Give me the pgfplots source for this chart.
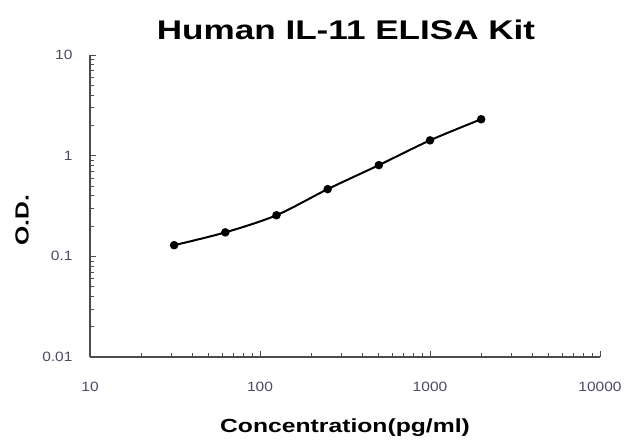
\documentclass[border=0pt]{standalone}
\usepackage{fontspec}
\setmainfont{Liberation Sans}
\newfontfamily\wide{Liberation Sans}[FakeStretch=1.3]
\newfontfamily\tickf{Liberation Sans}[FakeStretch=1.15]
\usepackage{pgfplots}
\pgfplotsset{compat=1.18}
\definecolor{ticklab}{RGB}{80,75,100}
\begin{document}
\begin{tikzpicture}
\useasboundingbox (-90pt,-83pt) rectangle (536pt,357pt);
\begin{axis}[
    at={(0,0)}, anchor=south west,
    scale only axis, width=510pt, height=302pt,
    xmode=log, ymode=log,
    xmin=10, xmax=10000, ymin=0.01, ymax=10,
    axis lines*=left,
    axis line style={line width=1.3pt, black!70},
    tick align=inside,
    major tick length=6pt, minor tick length=4pt,
    tick style={black!70, line width=0.8pt},
    xtick={10,100,1000,10000}, ytick={0.01,0.1,1,10},
    xticklabels={10,100,1000,10000},
    yticklabels={0.01,0.1,1,10},
    /pgf/number format/assume math mode=true,
    ticklabel style={font=\tickf\fontsize{13.5}{15}\selectfont, text=ticklab},
    xticklabel style={yshift=-22pt},
    yticklabel style={xshift=-14pt},
    clip=false,
]
\addplot[black, line width=2pt, smooth, mark=*, mark size=3.2pt] coordinates {
    (31.25,0.129)
    (62.5,0.173)
    (125,0.256)
    (250,0.465)
    (500,0.805)
    (1000,1.42)
    (2000,2.30)
};
\end{axis}
\node at (256pt,327pt) {\wide\bfseries\fontsize{27}{31}\selectfont Human IL-11 ELISA Kit};
\node at (255pt,-71pt) {\wide\bfseries\fontsize{19}{22}\selectfont Concentration(pg/ml)};
\node[rotate=90] at (-68pt,137pt) {\wide\bfseries\fontsize{19}{22}\selectfont O.D.};
\end{tikzpicture}
\end{document}
